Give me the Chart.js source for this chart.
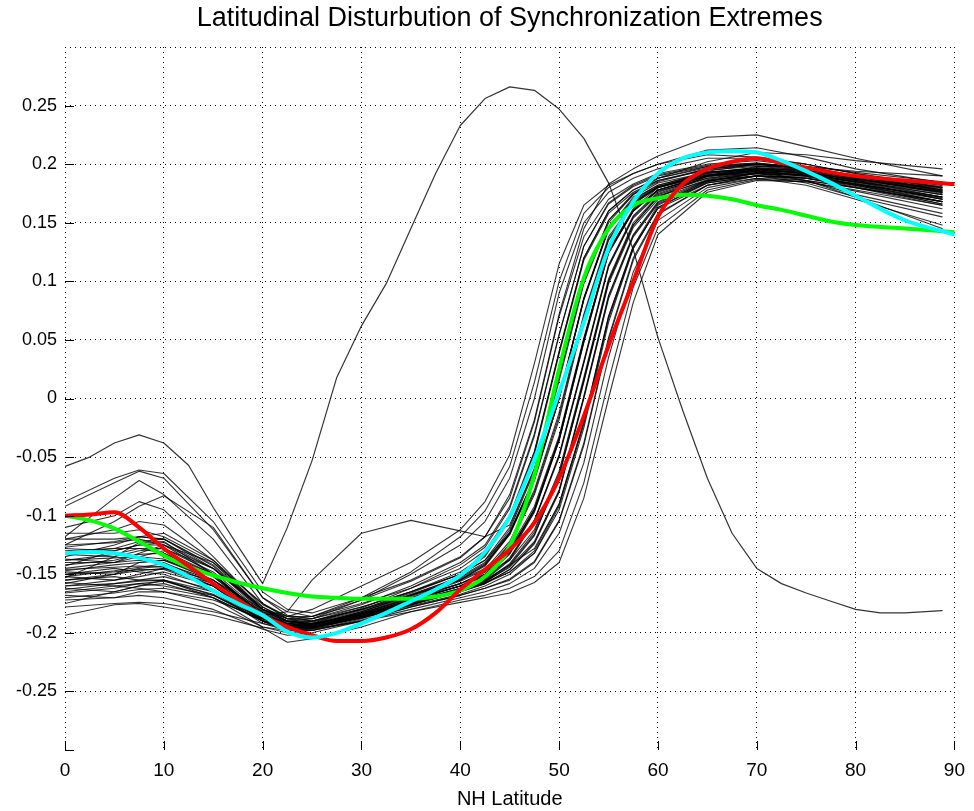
<!DOCTYPE html>
<html><head><meta charset="utf-8">
<script src="https://cdn.jsdelivr.net/npm/chart.js@4"></script>
<style>html,body{margin:0;padding:0;background:#fff;}canvas{display:block;}</style>
</head><body>
<canvas id="c" width="974" height="811" style="width:974px;height:811px"></canvas>
<script>
// ---------- tick labels ----------
const xTickValues = [0,10,20,30,40,50,60,70,80,90];
const xTickLabels = ['0','10','20','30','40','50','60','70','80','90'];
const yTickValues = [-0.3,-0.25,-0.2,-0.15,-0.1,-0.05,0,0.05,0.1,0.15,0.2,0.25,0.3];
const yTickLabels = ['','-0.25','-0.2','-0.15','-0.1','-0.05','0','0.05','0.1','0.15','0.2','0.25',''];

// ---------- highlighted series (latitude grid) ----------
const colorLats = [0,2.5,5,7.5,10,12.5,15,17.5,20,22.5,25,27.5,30,32.5,35,37.5,40,42.5,45,47.5,50,52.5,55,57.5,60,62.5,65,67.5,70,72.5,75,77.5,80,85,90];
const redSeries = [-0.100,-0.099,-0.097,-0.110,-0.128,-0.143,-0.158,-0.172,-0.185,-0.195,-0.202,-0.207,-0.207,-0.204,-0.197,-0.183,-0.163,-0.146,-0.129,-0.106,-0.068,-0.015,0.045,0.100,0.155,0.183,0.196,0.202,0.205,0.201,0.197,0.193,0.190,0.186,0.183];
const greenSeries = [-0.100,-0.104,-0.111,-0.122,-0.134,-0.144,-0.151,-0.157,-0.162,-0.166,-0.169,-0.170,-0.171,-0.171,-0.171,-0.169,-0.164,-0.152,-0.126,-0.065,0.025,0.103,0.145,0.165,0.171,0.174,0.173,0.170,0.165,0.161,0.156,0.151,0.148,0.145,0.142];
const cyanSeries = [-0.132,-0.131,-0.132,-0.136,-0.142,-0.152,-0.164,-0.175,-0.185,-0.199,-0.204,-0.200,-0.192,-0.183,-0.173,-0.163,-0.151,-0.131,-0.101,-0.052,0.005,0.065,0.128,0.168,0.192,0.205,0.210,0.211,0.210,0.203,0.194,0.184,0.173,0.152,0.140];

// ---------- outlier member ----------
const outlierLats = [0,2.5,5,7.5,10,12.5,15,17.5,20,22.5,25,27.5,30,32.5,35,37.5,40,42.5,45,47.5,50,52.5,55,57.5,60,62.5,65,67.5,70,72.5,75,77.5,80,82.5,85,88.75];
const outlierSeries = [-0.058,-0.050,-0.038,-0.031,-0.038,-0.057,-0.093,-0.126,-0.158,-0.110,-0.053,0.018,0.062,0.098,0.145,0.192,0.233,0.256,0.266,0.263,0.247,0.222,0.184,0.127,0.052,-0.010,-0.068,-0.115,-0.145,-0.158,-0.166,-0.173,-0.180,-0.183,-0.183,-0.181];

// ---------- ensemble members ----------
const memberLats = [0,5,7.5,10,15,20,22.5,25,30,35,40,42.5,45,47.5,50,52.5,55,57.5,60,65,70,75,80,88.75];
const m01 = [-0.088,-0.068,-0.061,-0.064,-0.105,-0.165,-0.180,-0.183,-0.170,-0.155,-0.135,-0.118,-0.085,-0.020,0.070,0.138,0.170,0.183,0.192,0.200,0.203,0.198,0.190,0.178];
const m02 = [-0.092,-0.072,-0.062,-0.068,-0.112,-0.170,-0.185,-0.188,-0.178,-0.165,-0.150,-0.138,-0.115,-0.068,0.002,0.085,0.145,0.172,0.184,0.193,0.196,0.192,0.185,0.170];
const m03 = [-0.118,-0.085,-0.070,-0.082,-0.120,-0.175,-0.188,-0.190,-0.180,-0.168,-0.155,-0.145,-0.128,-0.092,-0.032,0.052,0.125,0.160,0.178,0.190,0.194,0.190,0.183,0.172];
const m04 = [-0.125,-0.105,-0.092,-0.083,-0.110,-0.170,-0.182,-0.186,-0.175,-0.162,-0.145,-0.130,-0.100,-0.045,0.040,0.120,0.160,0.178,0.188,0.198,0.201,0.197,0.190,0.180];
const m05 = [-0.110,-0.100,-0.088,-0.095,-0.135,-0.178,-0.190,-0.193,-0.183,-0.170,-0.158,-0.150,-0.138,-0.112,-0.062,0.018,0.102,0.150,0.173,0.186,0.190,0.186,0.180,0.168];
const m06 = [-0.115,-0.115,-0.112,-0.118,-0.140,-0.180,-0.186,-0.180,-0.160,-0.140,-0.112,-0.088,-0.048,0.030,0.115,0.165,0.182,0.192,0.200,0.208,0.206,0.200,0.192,0.182];
const m07 = [-0.120,-0.120,-0.118,-0.120,-0.145,-0.182,-0.192,-0.195,-0.186,-0.175,-0.163,-0.155,-0.142,-0.128,-0.090,-0.020,0.070,0.130,0.165,0.186,0.192,0.190,0.185,0.176];
const m08 = [-0.125,-0.123,-0.120,-0.125,-0.150,-0.185,-0.182,-0.155,-0.115,-0.104,-0.113,-0.118,-0.108,-0.060,0.020,0.100,0.152,0.175,0.186,0.195,0.198,0.195,0.188,0.176];
const m09 = [-0.128,-0.130,-0.125,-0.123,-0.145,-0.178,-0.188,-0.192,-0.184,-0.172,-0.158,-0.148,-0.130,-0.095,-0.035,0.050,0.125,0.160,0.177,0.188,0.192,0.188,0.180,0.165];
const m10 = [-0.130,-0.128,-0.128,-0.132,-0.152,-0.186,-0.190,-0.188,-0.172,-0.150,-0.125,-0.105,-0.068,0.000,0.090,0.150,0.176,0.188,0.196,0.205,0.205,0.200,0.192,0.180];
const m11 = [-0.133,-0.135,-0.130,-0.128,-0.145,-0.180,-0.190,-0.194,-0.187,-0.176,-0.164,-0.157,-0.148,-0.132,-0.095,-0.025,0.065,0.128,0.163,0.185,0.193,0.192,0.187,0.180];
const m12 = [-0.137,-0.140,-0.132,-0.125,-0.140,-0.175,-0.186,-0.190,-0.180,-0.166,-0.150,-0.135,-0.102,-0.048,0.038,0.118,0.158,0.176,0.186,0.196,0.200,0.196,0.189,0.178];
const m13 = [-0.140,-0.140,-0.138,-0.140,-0.158,-0.190,-0.196,-0.196,-0.186,-0.172,-0.160,-0.150,-0.132,-0.096,-0.036,0.048,0.124,0.160,0.178,0.190,0.195,0.192,0.184,0.170];
const m14 = [-0.145,-0.140,-0.135,-0.130,-0.150,-0.185,-0.194,-0.195,-0.185,-0.172,-0.160,-0.150,-0.125,-0.082,-0.018,0.068,0.135,0.166,0.180,0.192,0.196,0.194,0.188,0.176];
const m15 = [-0.148,-0.150,-0.145,-0.143,-0.160,-0.190,-0.198,-0.198,-0.188,-0.176,-0.164,-0.156,-0.142,-0.116,-0.066,0.014,0.098,0.146,0.170,0.186,0.192,0.190,0.183,0.172];
const m16 = [-0.150,-0.145,-0.148,-0.150,-0.165,-0.192,-0.198,-0.196,-0.187,-0.177,-0.167,-0.160,-0.150,-0.132,-0.092,-0.022,0.068,0.128,0.163,0.184,0.190,0.188,0.182,0.168];
const m17 = [-0.152,-0.155,-0.150,-0.145,-0.155,-0.180,-0.188,-0.188,-0.176,-0.160,-0.140,-0.125,-0.092,-0.030,0.055,0.130,0.166,0.181,0.190,0.198,0.200,0.196,0.189,0.177];
const m18 = [-0.155,-0.152,-0.155,-0.155,-0.170,-0.195,-0.200,-0.198,-0.190,-0.180,-0.170,-0.165,-0.158,-0.145,-0.115,-0.055,0.035,0.108,0.152,0.180,0.188,0.186,0.180,0.168];
const m19 = [-0.157,-0.160,-0.158,-0.160,-0.168,-0.188,-0.194,-0.194,-0.182,-0.168,-0.155,-0.142,-0.115,-0.068,0.000,0.085,0.145,0.170,0.182,0.193,0.197,0.194,0.186,0.172];
const m20 = [-0.160,-0.155,-0.152,-0.148,-0.160,-0.185,-0.192,-0.194,-0.185,-0.174,-0.163,-0.155,-0.138,-0.105,-0.050,0.030,0.112,0.154,0.174,0.188,0.194,0.193,0.187,0.178];
const m21 = [-0.162,-0.165,-0.160,-0.158,-0.170,-0.190,-0.196,-0.196,-0.187,-0.176,-0.165,-0.158,-0.146,-0.124,-0.080,0.000,0.085,0.138,0.166,0.184,0.190,0.188,0.182,0.170];
const m22 = [-0.165,-0.160,-0.162,-0.165,-0.175,-0.195,-0.198,-0.197,-0.190,-0.182,-0.174,-0.170,-0.166,-0.157,-0.140,-0.085,0.000,0.082,0.140,0.176,0.186,0.185,0.178,0.165];
const m23 = [-0.168,-0.170,-0.165,-0.165,-0.172,-0.188,-0.192,-0.190,-0.178,-0.165,-0.150,-0.138,-0.110,-0.060,0.018,0.100,0.152,0.174,0.185,0.196,0.199,0.195,0.188,0.175];
const m24 = [-0.172,-0.170,-0.168,-0.170,-0.180,-0.197,-0.202,-0.200,-0.190,-0.178,-0.168,-0.162,-0.155,-0.140,-0.105,-0.040,0.050,0.118,0.157,0.182,0.190,0.188,0.181,0.166];
const m25 = [-0.178,-0.175,-0.174,-0.175,-0.182,-0.192,-0.196,-0.195,-0.184,-0.170,-0.156,-0.146,-0.122,-0.078,-0.012,0.072,0.138,0.167,0.181,0.192,0.196,0.193,0.186,0.174];
const m26 = [-0.185,-0.176,-0.175,-0.178,-0.185,-0.196,-0.208,-0.205,-0.195,-0.182,-0.172,-0.168,-0.162,-0.152,-0.130,-0.072,0.015,0.095,0.146,0.178,0.187,0.185,0.177,0.162];
const m27 = [-0.153,-0.135,-0.123,-0.122,-0.150,-0.188,-0.194,-0.193,-0.184,-0.172,-0.160,-0.150,-0.130,-0.094,-0.034,0.050,0.126,0.162,0.180,0.194,0.200,0.198,0.193,0.185];
const m28 = [-0.158,-0.150,-0.140,-0.138,-0.155,-0.182,-0.190,-0.192,-0.184,-0.174,-0.164,-0.157,-0.143,-0.117,-0.066,0.015,0.100,0.148,0.172,0.190,0.198,0.198,0.194,0.190];
const m29 = [-0.143,-0.130,-0.125,-0.125,-0.145,-0.180,-0.188,-0.186,-0.172,-0.156,-0.136,-0.118,-0.082,-0.018,0.072,0.145,0.183,0.196,0.207,0.223,0.225,0.215,0.205,0.190];
const m30 = [-0.175,-0.165,-0.160,-0.155,-0.168,-0.190,-0.195,-0.195,-0.185,-0.173,-0.162,-0.154,-0.136,-0.104,-0.048,0.032,0.114,0.156,0.176,0.190,0.196,0.195,0.190,0.182];
const m31 = [-0.135,-0.125,-0.118,-0.115,-0.138,-0.176,-0.186,-0.186,-0.170,-0.148,-0.118,-0.096,-0.058,0.014,0.100,0.158,0.180,0.192,0.200,0.212,0.214,0.206,0.196,0.184];
const m32 = [-0.147,-0.142,-0.140,-0.138,-0.152,-0.184,-0.193,-0.195,-0.186,-0.175,-0.164,-0.158,-0.148,-0.130,-0.090,-0.020,0.070,0.130,0.162,0.182,0.188,0.182,0.170,0.148];
const m33 = [-0.132,-0.128,-0.122,-0.120,-0.142,-0.180,-0.190,-0.193,-0.185,-0.174,-0.163,-0.156,-0.144,-0.122,-0.078,0.002,0.088,0.140,0.168,0.186,0.190,0.184,0.172,0.155];
const m34 = [-0.150,-0.148,-0.146,-0.146,-0.160,-0.188,-0.194,-0.193,-0.182,-0.168,-0.154,-0.142,-0.116,-0.070,0.000,0.085,0.145,0.168,0.180,0.190,0.192,0.186,0.174,0.158];
const m35 = [-0.163,-0.158,-0.155,-0.152,-0.163,-0.188,-0.195,-0.196,-0.186,-0.173,-0.160,-0.152,-0.133,-0.097,-0.036,0.048,0.124,0.160,0.178,0.190,0.194,0.186,0.172,0.145];
const m36 = [-0.138,-0.133,-0.128,-0.128,-0.148,-0.183,-0.192,-0.193,-0.182,-0.168,-0.152,-0.140,-0.112,-0.062,0.015,0.098,0.150,0.174,0.188,0.202,0.210,0.208,0.203,0.196];
const m37 = [-0.142,-0.138,-0.133,-0.132,-0.150,-0.184,-0.192,-0.193,-0.183,-0.171,-0.158,-0.148,-0.124,-0.080,-0.015,0.070,0.136,0.166,0.180,0.191,0.195,0.192,0.185,0.172];
const m38 = [-0.155,-0.150,-0.147,-0.145,-0.158,-0.186,-0.194,-0.195,-0.185,-0.172,-0.160,-0.151,-0.131,-0.095,-0.034,0.050,0.126,0.161,0.178,0.190,0.195,0.193,0.187,0.176];
const m39 = [-0.120,-0.112,-0.105,-0.108,-0.138,-0.180,-0.190,-0.191,-0.180,-0.165,-0.148,-0.134,-0.102,-0.046,0.040,0.120,0.160,0.178,0.188,0.197,0.200,0.196,0.190,0.181];
const m40 = [-0.166,-0.162,-0.158,-0.156,-0.167,-0.190,-0.197,-0.197,-0.187,-0.175,-0.164,-0.156,-0.141,-0.114,-0.064,0.016,0.100,0.148,0.172,0.187,0.193,0.191,0.185,0.174];
const m41 = [-0.146,-0.144,-0.143,-0.144,-0.160,-0.190,-0.198,-0.198,-0.189,-0.178,-0.168,-0.162,-0.154,-0.139,-0.104,-0.038,0.052,0.120,0.158,0.182,0.190,0.189,0.183,0.171];
const m42 = [-0.127,-0.122,-0.118,-0.120,-0.143,-0.181,-0.191,-0.192,-0.181,-0.167,-0.153,-0.141,-0.114,-0.068,0.000,0.086,0.146,0.170,0.182,0.193,0.197,0.195,0.189,0.179];
const m43 = [-0.170,-0.166,-0.163,-0.162,-0.170,-0.190,-0.194,-0.192,-0.179,-0.162,-0.142,-0.127,-0.094,-0.032,0.054,0.130,0.167,0.182,0.191,0.199,0.201,0.197,0.190,0.178];
const m44 = [-0.138,-0.136,-0.135,-0.137,-0.155,-0.187,-0.195,-0.196,-0.186,-0.174,-0.162,-0.154,-0.137,-0.104,-0.049,0.031,0.113,0.155,0.175,0.189,0.194,0.191,0.183,0.168];
const m45 = [-0.152,-0.147,-0.144,-0.141,-0.155,-0.185,-0.193,-0.195,-0.187,-0.176,-0.165,-0.158,-0.146,-0.123,-0.079,0.001,0.087,0.139,0.167,0.185,0.192,0.191,0.186,0.177];
const m46 = [-0.160,-0.158,-0.156,-0.155,-0.165,-0.189,-0.195,-0.195,-0.183,-0.169,-0.155,-0.143,-0.116,-0.069,0.000,0.084,0.144,0.169,0.181,0.191,0.194,0.190,0.182,0.166];
const members = [m01,m02,m03,m04,m05,m06,m07,m08,m09,m10,m11,m12,m13,m14,m15,m16,m17,m18,m19,m20,m21,m22,m23,m24,m25,m26,m27,m28,m29,m30,m31,m32,m33,m34,m35,m36,m37,m38,m39,m40,m41,m42,m43,m44,m45,m46];

// ---------- build chart ----------
const FONT = "'Liberation Sans', Arial, Helvetica, sans-serif";
function pts(lats, vals){ return lats.map((x,i)=>({x:x, y:vals[i]})); }

const datasets = [
  {data: pts(colorLats, cyanSeries), borderColor:'#00ffff', borderWidth:4, cubicInterpolationMode:'monotone', order:0},
  {data: pts(colorLats, redSeries), borderColor:'#ff0000', borderWidth:4, cubicInterpolationMode:'monotone', order:1},
  {data: pts(colorLats, greenSeries), borderColor:'#00ff00', borderWidth:4, cubicInterpolationMode:'monotone', order:2},
  {data: pts(outlierLats, outlierSeries), borderColor:'rgba(0,0,0,0.8)', borderWidth:1.2, tension:0, order:3}
];
members.forEach((m,i)=>datasets.push({data: pts(memberLats, m), borderColor:'rgba(0,0,0,0.8)', borderWidth:1.1, tension:0, order:4+i}));

const tickMarks = {
  id:'tickMarks',
  afterDraw(chart){
    const {ctx, chartArea:a, scales} = chart;
    ctx.save();
    ctx.strokeStyle = '#000';
    ctx.lineWidth = 1;
    ctx.beginPath();
    xTickValues.forEach(v=>{
      const px = Math.round(scales.x.getPixelForValue(v)) + 0.5;
      ctx.moveTo(px, a.bottom); ctx.lineTo(px, a.bottom - 9);
    });
    yTickValues.slice(0, -1).forEach(v=>{
      const py = Math.round(scales.y.getPixelForValue(v)) + 0.5;
      ctx.moveTo(a.left, py); ctx.lineTo(a.left + 9, py);
    });
    ctx.stroke();
    ctx.restore();
  }
};

new Chart(document.getElementById('c').getContext('2d'), {
  type: 'line',
  data: { datasets },
  plugins: [tickMarks],
  options: {
    responsive: false,
    animation: false,
    devicePixelRatio: 1,
    layout: { padding: { left: 0, right: 16, top: 0, bottom: 0 } },
    elements: { point: { radius: 0 }, line: { fill: false, borderCapStyle: 'round', borderJoinStyle: 'round' } },
    plugins: {
      legend: { display: false },
      tooltip: { enabled: false },
      title: {
        display: true,
        text: 'Latitudinal Disturbution of Synchronization Extremes',
        color: '#000',
        font: { family: FONT, size: 27, weight: 'normal' },
        padding: { top: 2.5, bottom: 12.1 },
        fullSize: false
      }
    },
    scales: {
      x: {
        type: 'linear', min: 0, max: 90,
        afterBuildTicks: s => { s.ticks = xTickValues.map(v=>({value:v})); },
        afterFit: s => { s.height = 61; },
        ticks: { callback: (v,i) => xTickLabels[i], color:'#000', font:{family:FONT, size:19}, padding:9, maxRotation:0, autoSkip:false },
        grid: { color:'#000', lineWidth:1, drawTicks:false },
        border: { display:false, dash:[1,4] },
        title: { display:true, text:'NH Latitude', color:'#000', font:{family:FONT, size:20}, padding:{top:0, bottom:0} }
      },
      y: {
        type: 'linear', min: -0.3, max: 0.3,
        afterBuildTicks: s => { s.ticks = yTickValues.map(v=>({value:v})); },
        afterFit: s => { s.width = 65; },
        ticks: { callback: (v,i) => yTickLabels[i], color:'#000', font:{family:FONT, size:18}, padding:8, autoSkip:false },
        grid: { color: c => (c.index === 0 ? 'rgba(0,0,0,0)' : '#000'), lineWidth:1, drawTicks:false },
        border: { display:false, dash:[1,4] }
      }
    }
  }
});
</script>
</body></html>
